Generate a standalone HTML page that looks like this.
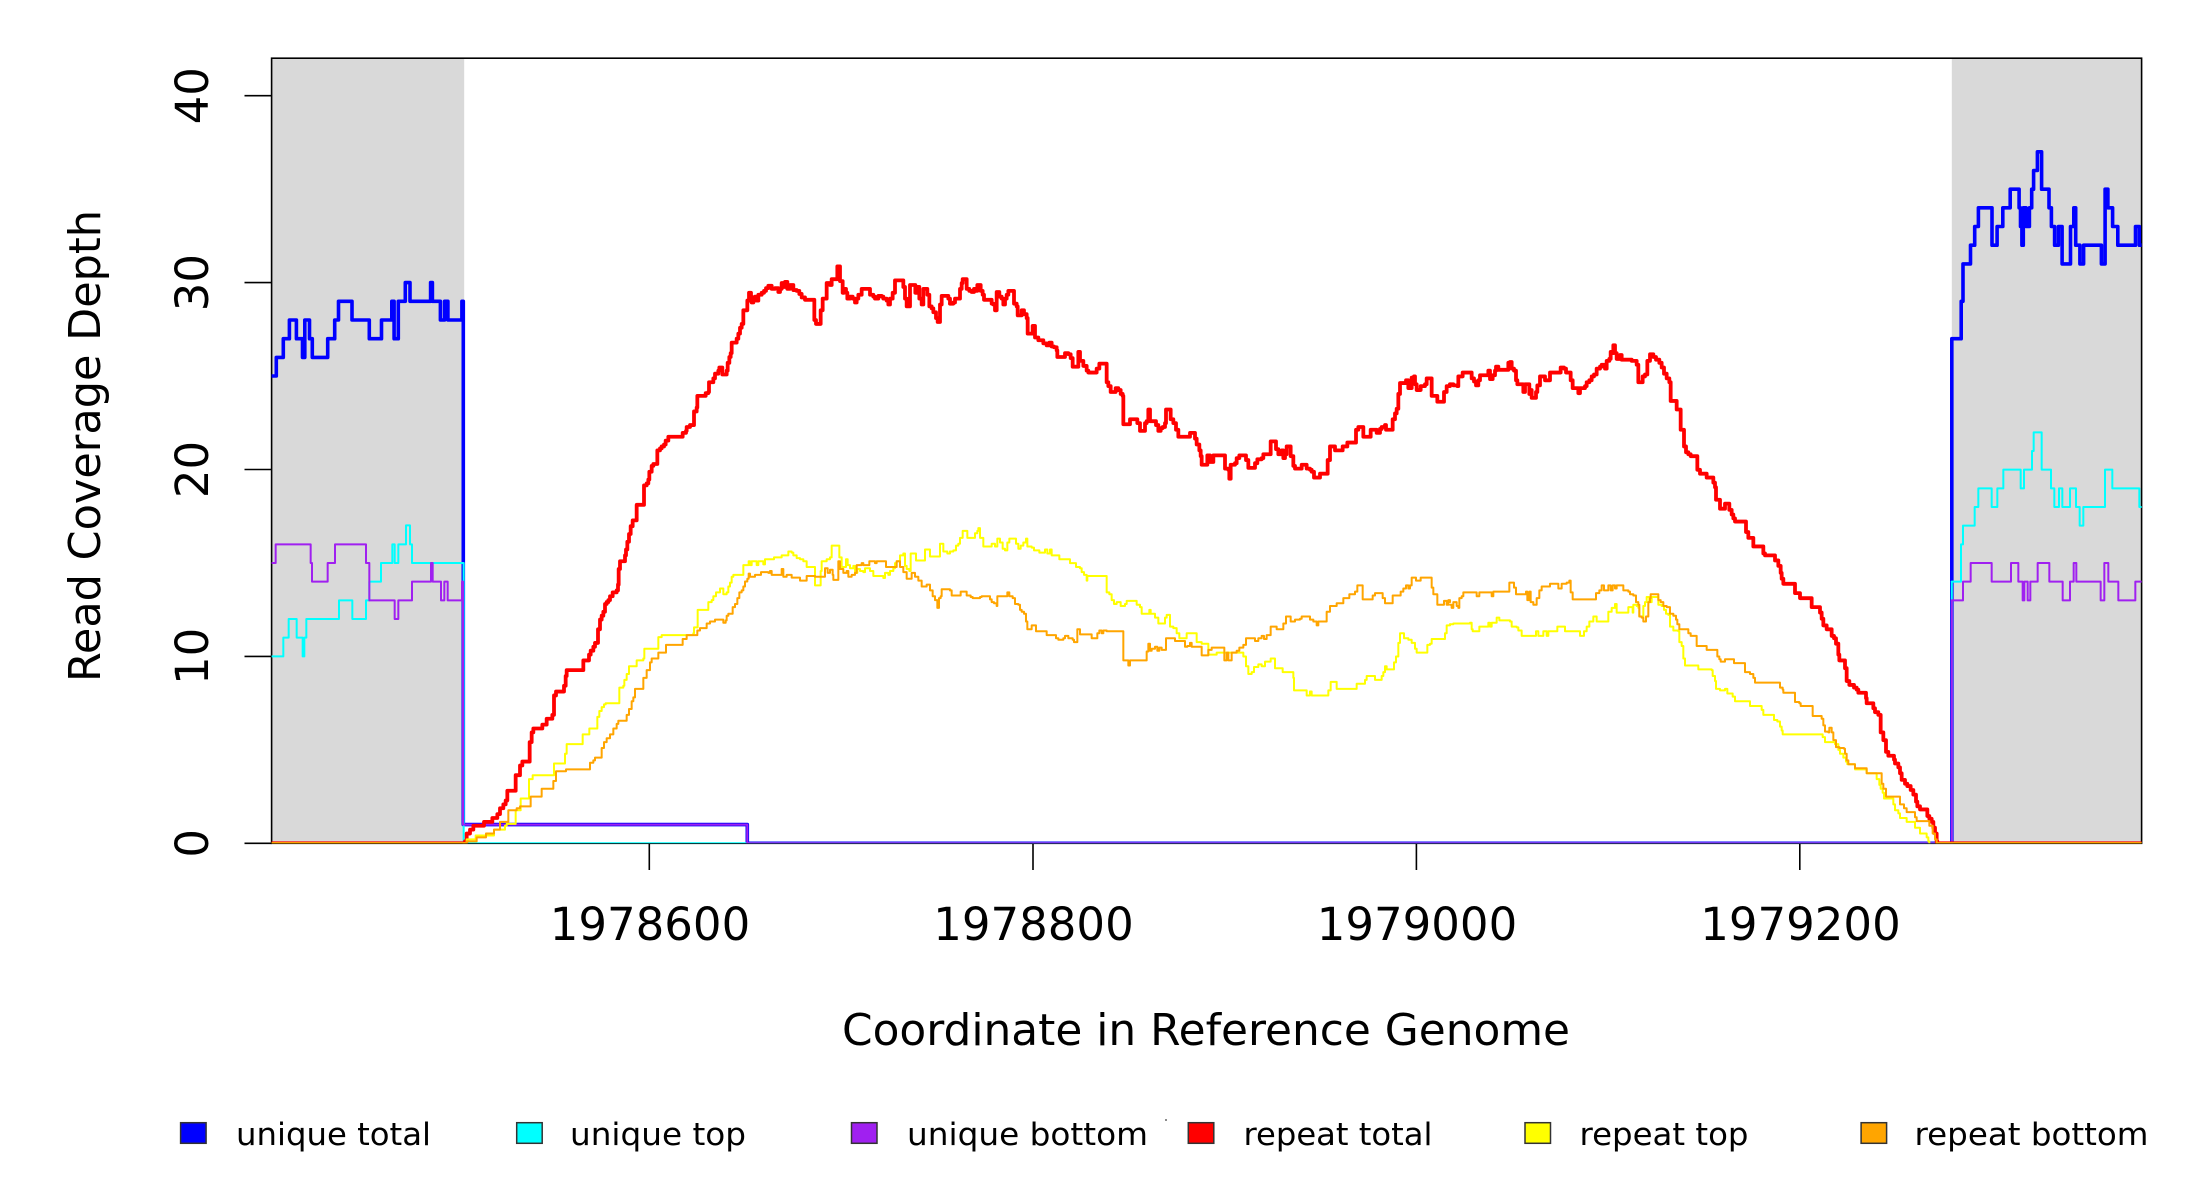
<!DOCTYPE html>
<html><head><meta charset="utf-8"><title>Read Coverage Depth</title>
<style>
html,body{margin:0;padding:0;background:#fff;}
svg{display:block;}
text{font-family:"DejaVu Sans","Liberation Sans",sans-serif;fill:#000;}
.s{fill:none;stroke-linejoin:round;stroke-linecap:round;vector-effect:non-scaling-stroke;}
.bl{stroke:#0000FF;stroke-width:3.6;}
.cy{stroke:#00FFFF;stroke-width:2;}
.pu{stroke:#A020F0;stroke-width:2;}
.rd{stroke:#FF0000;stroke-width:3.8;}
.ye{stroke:#FFFF00;stroke-width:2;}
.or{stroke:#FFA500;stroke-width:2;}
</style></head>
<body>
<svg width="2200" height="1200" viewBox="0 0 2200 1200" xmlns="http://www.w3.org/2000/svg">
<defs>
<clipPath id="pc"><rect x="271.6" y="58.2" width="1870" height="785.1"/></clipPath>
</defs>
<rect x="0" y="0" width="2200" height="1200" fill="#fff"/>

<!-- gray flank regions -->
<rect x="271.6" y="58.2" width="192.6" height="785.1" fill="#D9D9D9"/>
<rect x="1951.8" y="58.2" width="189.8" height="785.1" fill="#D9D9D9"/>

<!-- box -->
<rect x="271.6" y="58.2" width="1870" height="785.1" fill="none" stroke="#000" stroke-width="1.6"/>

<!-- y axis ticks -->
<g stroke="#000" stroke-width="1.6">
<line x1="244.5" y1="843.3" x2="271.6" y2="843.3"/>
<line x1="244.5" y1="656.4" x2="271.6" y2="656.4"/>
<line x1="244.5" y1="469.5" x2="271.6" y2="469.5"/>
<line x1="244.5" y1="282.6" x2="271.6" y2="282.6"/>
<line x1="244.5" y1="95.7" x2="271.6" y2="95.7"/>
<!-- x axis ticks -->
<line x1="649.3" y1="843.3" x2="649.3" y2="870"/>
<line x1="1033" y1="843.3" x2="1033" y2="870"/>
<line x1="1416.4" y1="843.3" x2="1416.4" y2="870"/>
<line x1="1799.8" y1="843.3" x2="1799.8" y2="870"/>
</g>

<!-- y tick labels -->
<g font-size="45" text-anchor="middle">
<text transform="translate(208,843.3) rotate(-90)">0</text>
<text transform="translate(208,656.4) rotate(-90)">10</text>
<text transform="translate(208,469.5) rotate(-90)">20</text>
<text transform="translate(208,282.6) rotate(-90)">30</text>
<text transform="translate(208,95.7) rotate(-90)">40</text>
</g>
<!-- x tick labels -->
<g font-size="45" text-anchor="middle">
<text x="650" y="940">1978600</text>
<text x="1033.5" y="940">1978800</text>
<text x="1417" y="940">1979000</text>
<text x="1800.5" y="940">1979200</text>
</g>
<!-- axis titles -->
<text x="1206" y="1045" font-size="44" text-anchor="middle" textLength="728" lengthAdjust="spacingAndGlyphs">Coordinate in Reference Genome</text>
<text transform="translate(100,446) rotate(-90)" font-size="44" text-anchor="middle" textLength="472" lengthAdjust="spacingAndGlyphs">Read Coverage Depth</text>

<g clip-path="url(#pc)">
<!-- ===== unique total (blue) ===== -->
<path class="s bl" d="M271.6 376 H276.3 V357.4 H283.3 V338.7 H289.4 V320 H296.4 V338.7 H302.5 V357.4 H304.8 V320 H309.5 V338.7 H312.3 V357.4 H327.7 V338.7 H334.7 V320 H338.5 V301.3 H352 V320 H369.3 V338.7 H381.5 V320 H391.8 V301.3 H394.1 V338.7 H398.3 V301.3 H405.3 V282.6 H410 V301.3 H430.6 V282.6 H432.4 V301.3 H440.4 V320 H444.6 V301.3 H447.9 V320 H461.9 V301.3 H463.3 V824.6 H747.3 V843.3 H1951.8 V338.7 H1961.2 V301.3 H1963 V263.9 H1970.5 V245.2 H1974.7 V226.5 H1978.4 V207.8 H1992 V245.2 H1997.1 V226.5 H2002.8 V207.8 H2010.2 V189.2 H2019.1 V207.8 H2020.5 V226.5 H2021.9 V245.2 H2023.3 V207.8 H2026.1 V226.5 H2029.4 V207.8 H2031.7 V189.2 H2033.6 V170.5 H2037.4 V151.8 H2041.6 V189.2 H2049 V207.8 H2051.4 V226.5 H2054.6 V245.2 H2058.4 V226.5 H2062.1 V263.9 H2070.5 V226.5 H2073.8 V207.8 H2075.7 V245.2 H2079.9 V263.9 H2083.6 V245.2 H2101.4 V263.9 H2105.1 V189.2 H2107.9 V207.8 H2112.6 V226.5 H2117.8 V245.2 H2135.5 V226.5 H2139.3 V245.2 H2143"/>

<!-- ===== unique top (cyan) ===== -->
<g transform="translate(262,500) scale(0.333333,0.333333)">
<path class="s cy" d="M29 469 H64 V413 H80 V357 H104 V413 H122 V469 H127 V413 H133 V357 H231 V301 H271 V357 H312 V301 H322 V245 H357 V189 H391 V133 H398 V189 H409 V133 H432 V76 H444 V133 H450 V189 H605 V1030"/>
</g>
<path class="s cy" d="M463.7 843.3 H1951.8 V581.7"/>
<g transform="translate(1935,400) scale(0.333333,0.333333)">
<path class="s cy" d="M50 545 H78 V433 H84 V377 H119 V321 H130 V265 H170 V321 H187 V265 H205 V209 H257 V265 H267 V209 H291 V153 H296 V97 H320 V209 H348 V265 H358 V321 H372 V265 H382 V321 H405 V265 H423 V321 H434 V377 H445 V321 H510 V209 H532 V265 H613 V321 H625"/>
</g>

<!-- ===== unique bottom (purple) ===== -->
<g transform="translate(262,500) scale(0.333333,0.333333)">
<path class="s pu" d="M29 189 H41 V133 H146 V189 H150 V245 H197 V189 H219 V133 H312 V189 H322 V301 H398 V357 H409 V301 H450 V245 H507 V189 H512 V245 H537 V301 H547 V245 H557 V301 H600 V245 H603"/>
</g>
<path class="s pu" d="M463 581.7 V824.6 H747.3 V843.3 H1951.8 V600.3"/>
<g transform="translate(1935,400) scale(0.333333,0.333333)">
<path class="s pu" d="M50 601 H84 V545 H107 V489 H170 V545 H228 V489 H250 V545 H263 V601 H268 V545 H278 V601 H286 V545 H308 V489 H343 V545 H383 V601 H405 V545 H416 V489 H424 V545 H497 V601 H508 V489 H520 V545 H550 V601 H601 V545 H625"/>
</g>

<!-- ===== repeat total (red) ===== -->
<path class="s rd" d="M270 843.3 H464.5 M1936.7 843.3 H2143"/>
<g transform="translate(460,250) scale(0.333333,0.389031)">
<path class="s rd" d="M12 1525 H15 V1520 H20 V1500 H30 V1490 H40 V1480 H72 V1470 H97 V1460 H112 V1450 H120 V1435 H130 V1425 H137 V1415 H142 V1390 H167 V1350 H180 V1325 H187 V1315 H209 V1265 H215 V1240 H220 V1230 H247 V1220 H260 V1205 H277 V1195 H282 V1145 H288 V1135 H312 V1120 H317 V1095 H320 V1080 H370 V1055 H387 V1040 H392 V1030 H400 V1020 H405 V1010 H414 V975 H420 V950 H425 V940 H430 V930 H435 V910 H440 V905 H445 V900 H450 V890 H458 V880 H470 V875 H474 V860 H476 V820 H480 V800 H495 V785 H498 V770 H502 V750 H507 V730 H512 V710 H518 V695 H530 V655 H552 V605 H560 V600 H565 V590 H568 V570 H575 V555 H580 V550 H592 V515 H600 V510 H605 V505 H612 V500 H617 V490 H625 V480 H668 V470 H678 V465 H680 V455 H690 V450 H702 V415 H710 V405 H712 V375 H737 V368 H745 V365 H747 V340 H760 V330 H765 V318 H775 V310 H778 V302 H787 V320 H800 V310 H803 V290 H808 V275 H812 V265 H815 V238 H830 V228 H835 V215 H840 V200 H845 V190 H850 V155 H862 V130 H867 V110 H873 V120 H875 V135 H880 V130 H885 V120 H890 V130 H895 V115 H905 V110 H912 V105 H918 V98 H925 V92 H935 V100 H945 V98 H955 V108 H960 V100 H965 V85 H970 V95 H975 V82 H982 V100 H990 V90 H1000 V103 H1010 V105 H1018 V113 H1025 V122 H1035 V128 H1063 V180 H1068 V190 H1082 V155 H1088 V125 H1100 V85 H1110 V90 H1115 V75 H1132 V42 H1140 V80 H1148 V110 H1152 V100 H1158 V110 H1162 V125 H1170 V120 H1178 V125 H1185 V135 H1190 V125 H1195 V115 H1205 V100 H1230 V115 H1240 V120 H1245 V125 H1255 V118 H1265 V120 H1270 V125 H1280 V130 H1285 V140 H1290 V125 H1298 V110 H1305 V78 H1330 V95 H1335 V125 H1340 V145 H1350 V90 H1366 V110 H1372 V95 H1378 V125 H1385 V140 H1390 V100 H1402 V115 H1408 V145 H1415 V150 H1420 V160 H1428 V175 H1433 V185 H1440 V140 H1445 V118 H1465 V125 H1470 V138"/>
</g>
<g transform="translate(950,250) scale(0.333333,0.389031)">
<path class="s rd" d="M0 138 H10 V135 H15 V125 H30 V100 H35 V85 H38 V75 H50 V100 H58 V105 H65 V108 H72 V100 H78 V105 H82 V90 H92 V105 H98 V115 H102 V128 H125 V138 H130 V140 H135 V155 H140 V108 H148 V120 H155 V125 H160 V140 H165 V125 H170 V115 H175 V105 H192 V138 H200 V145 H203 V168 H215 V155 H222 V165 H230 V175 H233 V215 H248 V195 H255 V225 H265 V232 H280 V240 H290 V245 H298 V238 H305 V248 H312 V250 H320 V258 H322 V275 H345 V265 H355 V268 H362 V278 H368 V300 H385 V262 H390 V285 H400 V298 H410 V310 H415 V315 H440 V305 H448 V292 H470 V340 H475 V350 H482 V365 H497 V355 H505 V360 H512 V370 H518 V375 H520 V448 H540 V435 H562 V445 H570 V465 H585 V445 H590 V440 H595 V410 H600 V440 H618 V450 H625 V465 H632 V458 H638 V455 H645 V445 H648 V410 H662 V435 H670 V445 H678 V462 H685 V480 H720 V470 H735 V485 H740 V500 H748 V515 H752 V530 H755 V552 H772 V528 H780 V545 H790 V528 H825 V562 H835 V565 H838 V588 H842 V552 H855 V548 H860 V535 H868 V528 H888 V540 H895 V560 H915 V548 H922 V538 H935 V535 H940 V525 H962 V492 H978 V512 H985 V525 H995 V515 H1000 V535 H1005 V525 H1010 V505 H1022 V530 H1030 V555 H1035 V562 H1055 V552 H1070 V562 H1080 V565 H1085 V570 H1092 V585 H1110 V575 H1133 V540 H1140 V505 H1155 V515 H1178 V505 H1192 V495 H1218 V462 H1225 V455 H1240 V480 H1262 V462 H1280 V470 H1290 V460 H1295 V455 H1305 V450 H1308 V462 H1328 V435 H1335 V420 H1340 V408 H1345 V370 H1350 V342 H1368 V335 H1375 V355 H1385 V328 H1392 V325 H1395 V345 H1400 V360 H1412 V350 H1425 V345 H1430 V330 H1445 V375 H1462 V390 H1482 V365 H1490 V350 H1500 V345"/>
</g>
<g transform="translate(1440,250) scale(0.333333,0.389031)">
<path class="s rd" d="M30 345 H40 V348 H52 V350 H55 V325 H68 V315 H95 V330 H102 V338 H108 V348 H115 V335 H120 V322 H145 V310 H150 V332 H158 V322 H165 V310 H168 V300 H175 V308 H205 V290 H210 V288 H215 V305 H222 V310 H228 V335 H232 V345 H250 V365 H255 V345 H268 V370 H272 V360 H275 V380 H288 V365 H292 V348 H300 V325 H315 V335 H330 V315 H362 V302 H372 V305 H378 V315 H392 V335 H398 V355 H415 V368 H420 V355 H435 V350 H440 V340 H448 V335 H455 V325 H462 V320 H470 V305 H480 V300 H485 V295 H495 V305 H500 V285 H508 V280 H512 V262 H518 V265 H520 V245 H525 V265 H530 V280 H540 V270 H545 V282 H575 V285 H590 V295 H595 V340 H608 V325 H615 V320 H622 V285 H630 V268 H640 V275 H648 V282 H658 V290 H665 V302 H672 V318 H680 V330 H688 V340 H692 V388 H710 V410 H722 V462 H732 V505 H738 V520 H745 V525 H752 V530 H772 V565 H780 V575 H800 V585 H820 V598 H825 V610 H828 V642 H840 V665 H855 V652 H868 V668 H875 V680 H880 V690 H885 V698 H918 V725 H925 V740 H940 V762 H970 V780 H975 V785 H1005 V798 H1015 V812 H1022 V830 H1025 V845 H1030 V858 H1065 V882 H1080 V895 H1115 V918 H1140 V932 H1145 V948 H1150 V965 H1160 V975 H1175 V992 H1182 V998 H1188 V1012 H1195 V1040 H1198 V1055 H1215 V1075 H1220 V1108 H1228 V1118 H1242 V1125 H1250 V1130 H1255 V1138 H1278 V1152 H1280 V1165 H1300 V1178 H1305 V1188 H1315 V1195 H1322 V1240 H1330 V1260 H1338 V1290 H1345 V1300 H1362 V1310 H1365 V1320 H1375 V1330 H1380 V1345 H1385 V1362 H1395 V1372 H1402 V1378 H1412 V1388 H1420 V1400 H1428 V1418 H1432 V1430 H1440 V1438 H1462 V1455 H1468 V1462 H1475 V1470 H1480 V1485 H1485 V1500 H1490 V1520 H1492 V1525"/>
</g>

<!-- ===== repeat top (yellow) ===== -->
<path class="s ye" d="M270 843.3 H464.5 M1936.7 843.3 H2143"/>
<g transform="translate(460,250) scale(0.333333,0.389031)">
<path class="s ye" d="M12 1525 H20 V1515 H47 V1505 H102 V1490 H135 V1480 H140 V1475 H167 V1440 H182 V1410 H207 V1360 H218 V1350 H282 V1320 H315 V1295 H320 V1270 H368 V1245 H388 V1230 H412 V1200 H418 V1185 H425 V1175 H432 V1168 H437 V1165 H478 V1125 H490 V1120 H493 V1105 H500 V1090 H507 V1070 H530 V1055 H550 V1050 H553 V1025 H595 V995 H605 V990 H700 V985 H702 V970 H713 V925 H745 V905 H755 V900 H760 V890 H768 V880 H780 V870 H790 V885 H800 V880 H805 V865 H810 V855 H815 V840 H820 V835 H850 V810 H866 V800 H870 V810 H875 V800 H890 V810 H895 V800 H910 V808 H915 V795 H942 V790 H965 V785 H985 V775 H995 V778 H1000 V785 H1010 V792 H1020 V795 H1030 V800 H1040 V815 H1065 V862 H1082 V825 H1085 V800 H1100 V795 H1110 V790 H1115 V760 H1138 V790 H1145 V815 H1158 V795 H1163 V810 H1170 V818 H1180 V812 H1185 V830 H1192 V820 H1200 V825 H1210 V828 H1215 V818 H1230 V825 H1240 V838 H1270 V843 H1275 V830 H1285 V835 H1290 V825 H1300 V818 H1305 V805 H1310 V800 H1320 V785 H1330 V780 H1335 V812 H1340 V820 H1348 V825 H1352 V780 H1368 V798 H1395 V770 H1410 V788 H1440 V755 H1450 V775 H1462 V780 H1470 V775"/>
</g>
<g transform="translate(950,250) scale(0.333333,0.389031)">
<path class="s ye" d="M0 775 H10 V772 H18 V760 H25 V755 H30 V740 H38 V722 H52 V740 H75 V728 H82 V722 H85 V715 H90 V740 H100 V762 H125 V755 H135 V762 H142 V742 H150 V752 H158 V768 H165 V772 H172 V752 H178 V742 H198 V755 H205 V768 H212 V760 H220 V752 H228 V742 H232 V762 H245 V765 H252 V772 H268 V778 H285 V770 H292 V780 H300 V770 H305 V785 H328 V795 H360 V805 H378 V815 H390 V818 H395 V828 H402 V835 H410 V850 H412 V838 H470 V880 H478 V885 H485 V900 H492 V910 H500 V905 H512 V915 H525 V910 H530 V902 H560 V912 H570 V918 H575 V935 H598 V925 H602 V935 H615 V945 H625 V960 H645 V945 H650 V938 H660 V968 H670 V972 H680 V985 H688 V998 H710 V985 H740 V1008 H755 V1012 H775 V1040 H800 V1035 H880 V1045 H888 V1070 H895 V1090 H905 V1085 H912 V1072 H925 V1065 H935 V1070 H945 V1058 H962 V1050 H975 V1075 H998 V1085 H1030 V1100 H1032 V1132 H1070 V1145 H1080 V1135 H1085 V1145 H1135 V1132 H1142 V1110 H1160 V1128 H1220 V1115 H1245 V1105 H1250 V1095 H1275 V1105 H1295 V1095 H1300 V1085 H1305 V1070 H1310 V1078 H1332 V1060 H1338 V1045 H1345 V1010 H1350 V985 H1362 V998 H1375 V1002 H1385 V1010 H1395 V1025 H1400 V1035 H1432 V1015 H1440 V1012 H1445 V1000 H1485 V985 H1490 V965 H1500 V962"/>
</g>
<g transform="translate(1440,250) scale(0.333333,0.389031)">
<path class="s ye" d="M30 962 H40 V960 H90 V958 H95 V975 H98 V980 H118 V968 H145 V958 H150 V968 H155 V958 H170 V945 H178 V952 H210 V955 H215 V968 H230 V970 H235 V978 H245 V992 H288 V980 H295 V992 H310 V980 H320 V992 H325 V980 H352 V968 H375 V980 H420 V992 H432 V980 H440 V968 H448 V955 H460 V942 H470 V955 H505 V930 H515 V920 H525 V910 H530 V932 H565 V918 H578 V932 H580 V912 H590 V915 H595 V920 H598 V942 H610 V915 H615 V905 H620 V892 H628 V905 H635 V892 H655 V912 H665 V915 H672 V925 H678 V935 H685 V938 H690 V968 H700 V978 H715 V980 H718 V1008 H725 V1018 H730 V1050 H735 V1068 H775 V1078 H815 V1080 H818 V1095 H825 V1108 H828 V1128 H840 V1132 H855 V1128 H862 V1140 H878 V1148 H885 V1160 H930 V1172 H965 V1182 H970 V1195 H1002 V1208 H1012 V1212 H1020 V1225 H1025 V1235 H1028 V1245 H1148 V1252 H1155 V1265 H1185 V1270 H1195 V1285 H1200 V1295 H1210 V1305 H1218 V1315 H1222 V1322 H1245 V1335 H1280 V1345 H1310 V1360 H1318 V1375 H1322 V1385 H1328 V1395 H1332 V1410 H1360 V1425 H1365 V1440 H1375 V1448 H1380 V1460 H1400 V1470 H1425 V1485 H1440 V1500 H1460 V1510 H1465 V1520 H1468 V1525"/>
</g>

<!-- ===== repeat bottom (orange) ===== -->
<path class="s or" d="M270 843.3 H464.5 M1936.7 843.3 H2143"/>
<g transform="translate(460,250) scale(0.333333,0.389031)">
<path class="s or" d="M10 1525 H20 V1520 H50 V1510 H78 V1500 H102 V1490 H120 V1470 H145 V1440 H170 V1435 H180 V1430 H212 V1405 H245 V1385 H280 V1365 H288 V1340 H318 V1335 H390 V1318 H400 V1312 H405 V1305 H425 V1280 H432 V1265 H440 V1255 H450 V1245 H460 V1230 H470 V1218 H475 V1210 H500 V1195 H507 V1180 H515 V1160 H520 V1150 H525 V1128 H550 V1100 H560 V1080 H570 V1060 H575 V1050 H595 V1035 H618 V1015 H668 V1000 H680 V990 H712 V978 H720 V972 H740 V960 H750 V955 H765 V950 H790 V958 H797 V952 H800 V940 H805 V935 H818 V918 H825 V910 H832 V895 H838 V880 H845 V875 H850 V865 H855 V852 H862 V845 H866 V832 H870 V840 H885 V835 H903 V828 H925 V830 H930 V825 H935 V835 H965 V820 H970 V840 H980 V835 H995 V842 H1020 V850 H1040 V838 H1065 V840 H1095 V818 H1103 V830 H1110 V822 H1118 V835 H1120 V848 H1135 V800 H1140 V820 H1150 V830 H1160 V825 H1165 V840 H1175 V835 H1185 V830 H1190 V810 H1205 V805 H1210 V810 H1228 V800 H1245 V805 H1250 V800 H1278 V815 H1300 V815 H1310 V800 H1320 V815 H1330 V828 H1340 V845 H1355 V830 H1365 V840 H1375 V850 H1385 V865 H1400 V860 H1410 V875 H1418 V890 H1425 V900 H1432 V920 H1437 V895 H1442 V890 H1445 V872 H1470 V875"/>
</g>
<g transform="translate(950,250) scale(0.333333,0.389031)">
<path class="s or" d="M0 875 H5 V888 H32 V878 H50 V888 H62 V892 H68 V895 H90 V892 H95 V890 H120 V898 H125 V905 H132 V908 H140 V915 H142 V890 H172 V880 H178 V890 H188 V895 H195 V910 H205 V912 H210 V925 H215 V930 H222 V935 H228 V955 H232 V975 H245 V965 H258 V980 H290 V990 H318 V998 H325 V1002 H340 V998 H345 V992 H355 V998 H368 V1002 H372 V1008 H382 V975 H390 V988 H425 V998 H442 V985 H448 V978 H455 V985 H460 V978 H470 V980 H520 V1055 H535 V1068 H540 V1055 H590 V1032 H595 V1012 H600 V1030 H605 V1025 H615 V1020 H622 V1030 H628 V1022 H635 V1028 H648 V998 H675 V1005 H705 V1020 H712 V1018 H720 V1010 H725 V1020 H755 V1042 H775 V1028 H785 V1022 H823 V1055 H830 V1035 H835 V1055 H845 V1035 H860 V1030 H868 V1022 H880 V1015 H888 V998 H915 V1005 H925 V998 H935 V992 H942 V1000 H950 V990 H962 V968 H980 V975 H1000 V960 H1008 V942 H1022 V955 H1035 V950 H1050 V948 H1055 V942 H1080 V950 H1090 V955 H1100 V965 H1105 V955 H1130 V930 H1140 V915 H1160 V908 H1180 V895 H1198 V885 H1215 V878 H1222 V862 H1238 V898 H1268 V888 H1275 V882 H1298 V895 H1305 V908 H1328 V888 H1352 V878 H1360 V870 H1368 V862 H1375 V870 H1380 V862 H1385 V842 H1398 V850 H1412 V842 H1445 V868 H1450 V885 H1462 V912 H1482 V902 H1490 V912 H1495 V900 H1500 V905"/>
</g>
<g transform="translate(1440,250) scale(0.333333,0.389031)">
<path class="s or" d="M30 912 H35 V920 H40 V905 H50 V915 H55 V920 H58 V895 H65 V890 H70 V880 H110 V890 H118 V880 H155 V890 H160 V878 H208 V855 H222 V868 H228 V885 H258 V878 H262 V900 H268 V878 H272 V905 H280 V912 H290 V895 H298 V875 H305 V865 H330 V858 H355 V870 H365 V858 H380 V855 H388 V850 H392 V880 H398 V898 H468 V882 H478 V875 H485 V862 H492 V875 H505 V862 H512 V875 H518 V862 H525 V870 H530 V862 H550 V875 H565 V878 H570 V885 H580 V888 H588 V905 H595 V912 H598 V942 H605 V945 H610 V955 H618 V942 H625 V905 H630 V895 H632 V885 H655 V900 H662 V905 H670 V915 H680 V918 H690 V935 H700 V940 H708 V950 H712 V962 H718 V975 H745 V985 H752 V992 H770 V1018 H800 V1028 H832 V1045 H838 V1052 H842 V1058 H855 V1052 H882 V1062 H915 V1085 H930 V1090 H940 V1100 H945 V1112 H1020 V1125 H1028 V1130 H1030 V1138 H1065 V1162 H1078 V1165 H1082 V1172 H1118 V1198 H1145 V1205 H1150 V1222 H1155 V1238 H1165 V1240 H1168 V1228 H1175 V1240 H1180 V1260 H1188 V1278 H1198 V1280 H1212 V1282 H1215 V1295 H1220 V1312 H1225 V1322 H1245 V1332 H1280 V1345 H1325 V1372 H1330 V1385 H1338 V1405 H1380 V1425 H1392 V1435 H1400 V1445 H1425 V1458 H1430 V1468 H1468 V1480 H1478 V1500 H1485 V1515 H1490 V1525"/>
</g>
</g>

<!-- legend -->
<g stroke="#333" stroke-width="1.5">
<rect x="180.6" y="1122.7" width="25.5" height="20.6" fill="#0000FF"/>
<rect x="516.7" y="1122.7" width="25.5" height="20.6" fill="#00FFFF"/>
<rect x="851.5" y="1122.7" width="25.5" height="20.6" fill="#A020F0"/>
<rect x="1188.3" y="1122.7" width="25.5" height="20.6" fill="#FF0000"/>
<rect x="1525" y="1122.7" width="25.5" height="20.6" fill="#FFFF00"/>
<rect x="1861.1" y="1122.7" width="25.5" height="20.6" fill="#FFA500"/>
</g>
<g font-size="31">
<text x="236" y="1145" textLength="195" lengthAdjust="spacingAndGlyphs">unique total</text>
<text x="570" y="1145" textLength="176" lengthAdjust="spacingAndGlyphs">unique top</text>
<text x="907" y="1145" textLength="241" lengthAdjust="spacingAndGlyphs">unique bottom</text>
<text x="1243.5" y="1145" textLength="189" lengthAdjust="spacingAndGlyphs">repeat total</text>
<text x="1579.5" y="1145" textLength="169" lengthAdjust="spacingAndGlyphs">repeat top</text>
<text x="1914.5" y="1145" textLength="234" lengthAdjust="spacingAndGlyphs">repeat bottom</text>
</g>
<circle cx="1166" cy="1120" r="1" fill="#666"/>
</svg>
</body></html>
